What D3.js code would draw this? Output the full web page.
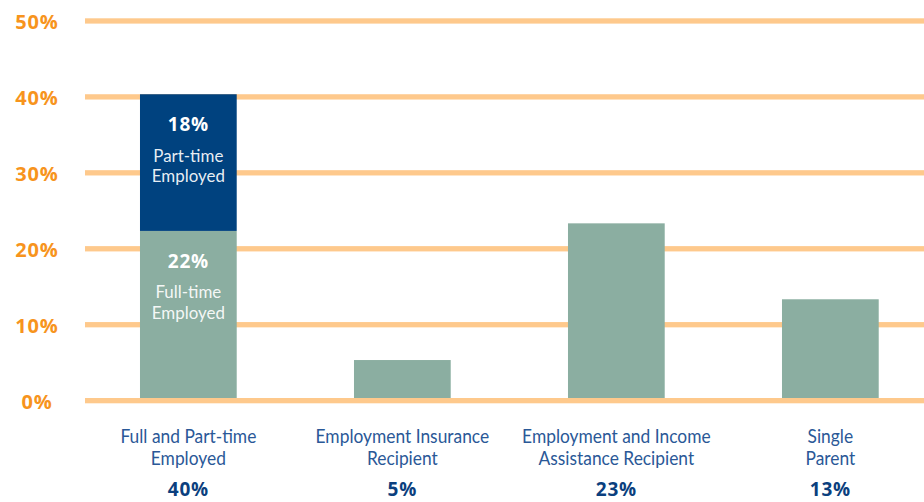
<!DOCTYPE html>
<html><head><meta charset="utf-8">
<script src="https://cdn.jsdelivr.net/npm/d3@7"></script>
<style>
html,body{margin:0;padding:0;background:#fff;}
svg{display:block;}
.cond{font-family:Lato,"Open Sans",sans-serif;}
</style></head><body>
<svg id="c" width="924" height="502"></svg>
<script>
const categories = [["Full and Part-time","Employed"],["Employment Insurance","Recipient"],["Employment and Income","Assistance Recipient"],["Single","Parent"]];
const fullTime = [22, 5, 23, 13];
const partTime = [18, 0, 0, 0];
const totals = [40, 5, 23, 13];
const segLabels = [["Full-time","Employed"],["Part-time","Employed"]];
const yTicks = [0,10,20,30,40,50];

const svg = d3.select("#c");
const y = d3.scaleLinear().domain([0,50]).range([398,18.3]);
const x = d3.scaleBand().domain(d3.range(categories.length)).range([81.35,937.35]).paddingInner(0.548).paddingOuter(0.274);

const ORANGE_GRID = "#FEC98C", ORANGE_TXT = "#F7941D", BLUE = "#00427F", GREEN = "#8BAEA1";

// fit condensed text horizontally: measure natural width of a sample, squeeze to the reference ratio
function condText(parent, cx, cy, str, size, fill, sq, opacity){
  parent.append("g").attr("transform",`translate(${cx},${cy}) scale(${sq},1)`)
    .append("text").attr("class","cond").attr("text-anchor","middle")
    .attr("font-size",size).attr("fill",fill).attr("fill-opacity",opacity||1).text(str);
}
// measure Lato to get squeeze factor: "Full and Part-time" spans ~136px in the reference at this size
const probe = svg.append("text").attr("class","cond").attr("font-size",18.5).text(categories[0][0]);
const SQ = Math.min(1, 136 / probe.node().getComputedTextLength());
probe.remove();

// gridlines
svg.append("g").selectAll("rect").data(yTicks).join("rect")
  .attr("x",85).attr("width",924-85).attr("y",d=>y(d)).attr("height",5.3).attr("fill",ORANGE_GRID);

// y labels
svg.append("g").selectAll("text").data(yTicks).join("text")
  .attr("x",37).attr("y",d=>y(d)+10.5).attr("text-anchor","middle")
  .attr("font-family","'Open Sans',sans-serif").attr("font-weight",700).attr("font-size",20)
  .attr("letter-spacing",0.8).attr("fill",ORANGE_TXT).text(d=>d+"%");

// bars: full-time / base
svg.append("g").selectAll("rect").data(fullTime).join("rect")
  .attr("x",(d,i)=>x(i)).attr("width",x.bandwidth())
  .attr("y",d=>y(d)).attr("height",d=>y(0)-y(d)).attr("fill",GREEN);
// part-time stacked
svg.append("g").selectAll("rect").data(partTime.map((v,i)=>({v,i})).filter(d=>d.v>0)).join("rect")
  .attr("x",d=>x(d.i)).attr("width",x.bandwidth())
  .attr("y",d=>y(fullTime[d.i]+d.v)).attr("height",d=>y(fullTime[d.i])-y(fullTime[d.i]+d.v)).attr("fill",BLUE);

// inner labels for first bar
function segLabel(top, val, lines){
  const cx = x(0)+x.bandwidth()/2;
  const g = svg.append("g");
  g.append("text").attr("x",cx).attr("y",top+36.8).attr("text-anchor","middle").attr("fill","#fff")
    .attr("font-family","'Open Sans',sans-serif").attr("letter-spacing",0.8)
    .attr("font-weight",700).attr("font-size",19).text(val+"%");
  lines.forEach((l,k)=>condText(g, cx, top+67.3+k*20.3, l, 17.5, "#fff", SQ*1.03, 0.92));
}
segLabel(y(fullTime[0]+partTime[0]), partTime[0], segLabels[1]);
segLabel(y(fullTime[0]), fullTime[0], segLabels[0]);

// category labels
const cg = svg.append("g");
categories.forEach((lines,i)=>{
  const cx = x(i)+x.bandwidth()/2;
  lines.forEach((l,k)=>condText(cg, cx, 443.3+k*22, l, 18.5, "#2A5897", SQ));
  cg.append("text").attr("x",cx).attr("y",496).attr("text-anchor","middle").attr("font-family","'Open Sans',sans-serif")
    .attr("font-weight",700).attr("font-size",19).attr("letter-spacing",0.8).attr("fill","#0B3F7E").text(totals[i]+"%");
});
</script></body></html>
